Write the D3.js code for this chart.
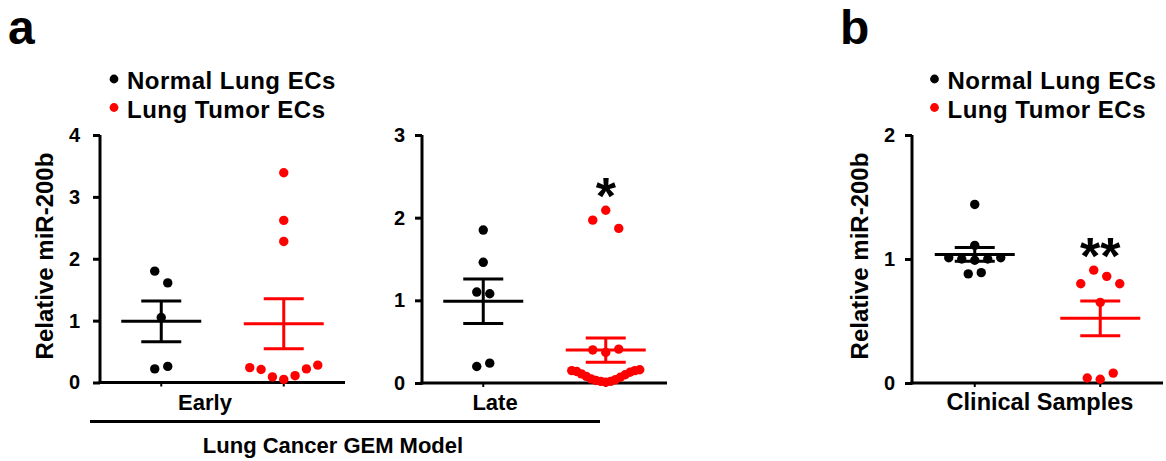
<!DOCTYPE html>
<html lang="en">
<head>
<meta charset="UTF-8">
<title>miR-200b</title>
<script src="https://d3js.org/d3.v7.min.js"></script>
<style>
  body { margin: 0; background: #fff; }
  text { font-family: "Liberation Sans", Arial, sans-serif; font-weight: bold; fill: #000; }
</style>
</head>
<body>
<script>
// ---- data ----
var seriesNames = ["Normal Lung ECs", "Lung Tumor ECs"];
var seriesColors = ["#000000", "#ff0000"];

var earlyNormal = [0.22, 0.26, 1.61, 1.80, 1.05];
var earlyTumor = [3.39, 2.62, 2.28, 0.28, 0.22, 0.11, 0.05, 0.09, 0.21, 0.24];

var lateNormal = [1.85, 1.46, 1.10, 1.08, 0.20, 0.24];
var lateTumor = [2.09, 1.97, 1.87, 0.40, 0.37, 0.41,
                 0.16, 0.15, 0.13, 0.10, 0.07, 0.04, 0.02, 0.01, 0.02, 0.03, 0.05, 0.08, 0.11, 0.14, 0.15];

var clinicalNormal = [1.44, 1.11, 1.01, 1.00, 0.99, 1.00, 1.01, 0.88, 0.89];
var clinicalTumor = [0.86, 0.91, 0.80, 0.80, 0.65, 0.08, 0.03, 0.04];

var earlyTicks = [0, 1, 2, 3, 4];
var lateTicks = [0, 1, 2, 3];
var clinicalTicks = [0, 1, 2];

var sigLate = "*";
var sigClinical = "**";

var width = 1166, height = 461;
var svg = d3.select("body").append("svg")
    .attr("width", width)
    .attr("height", height);

// points that fall in the same row get spread side by side (scatter dot plot)
function swarm(values, y, cx, mean) {
    var pts = values.map(function (v) { return {v: v, y: y(v)}; })
        .sort(function (a, b) { return b.y - a.y; });
    var rows = [];
    pts.forEach(function (p, i) {
        if (i > 0 && Math.abs(p.y - pts[i - 1].y) < 12) rows[rows.length - 1].push(p);
        else rows.push([p]);
    });
    var out = [];
    rows.forEach(function (row) {
        var n = row.length;
        var s = n > 1 ? Math.min(13, 68 / (n - 1)) : 0;
        var slots = d3.range(n).map(function (i) { return (i - (n - 1) / 2) * s; })
            .sort(function (a, b) { return Math.abs(a) - Math.abs(b) || a - b; });
        var rowMean = d3.mean(row, function (d) { return d.v; });
        row.sort(function (a, b) { return rowMean > mean ? b.v - a.v : a.v - b.v; });
        row.forEach(function (p, i) { out.push({v: p.v, x: cx + slots[i], y: p.y}); });
    });
    return out;
}

function panel(cfg) {
    var y = d3.scaleLinear().domain([0, cfg.ticks[cfg.ticks.length - 1]]).range([cfg.bottom, cfg.top]);
    var x = d3.scaleBand().domain(seriesNames).range([cfg.left, cfg.right]);
    var g = svg.append("g");

    var yAxis = d3.axisLeft(y).tickValues(cfg.ticks).tickFormat(d3.format("d"))
        .tickSize(7).tickPadding(cfg.pad);
    var ya = g.append("g").attr("transform", "translate(" + cfg.left + ",0)").call(yAxis);
    ya.select(".domain").attr("stroke-width", 3).attr("d", "M0," + (cfg.top) + "V" + (cfg.bottom + 1.5));
    ya.selectAll(".tick line").attr("stroke-width", 3);
    ya.selectAll(".tick text").attr("font-size", 20).attr("font-family", null).attr("fill", "#000");

    var xAxis = d3.axisBottom(x).tickSize(4).tickFormat("");
    var xa = g.append("g").attr("transform", "translate(0," + cfg.bottom + ")").call(xAxis);
    xa.select(".domain").attr("stroke-width", 3).attr("d", "M" + (cfg.left - 1.5) + ",0H" + cfg.right);
    xa.selectAll(".tick line").attr("stroke-width", 2);

    [cfg.normal, cfg.tumor].forEach(function (vals, k) {
        var cx = x(seriesNames[k]) + x.bandwidth() / 2;
        var m = d3.mean(vals);
        var sem = d3.deviation(vals) / Math.sqrt(vals.length);
        var col = seriesColors[k];
        var eb = g.append("g").attr("stroke", col).attr("stroke-width", 3).attr("fill", "none");
        eb.append("line").attr("x1", cx - 40).attr("x2", cx + 40).attr("y1", y(m)).attr("y2", y(m));
        eb.append("line").attr("x1", cx).attr("x2", cx).attr("y1", y(m - sem)).attr("y2", y(m + sem));
        [m - sem, m + sem].forEach(function (v) {
            eb.append("line").attr("x1", cx - 20).attr("x2", cx + 20).attr("y1", y(v)).attr("y2", y(v));
        });
        g.append("g").selectAll("circle")
            .data(swarm(vals, y, cx, m))
            .enter().append("circle")
            .attr("cx", function (d) { return d.x; })
            .attr("cy", function (d) { return d.y; })
            .attr("r", 4.7)
            .attr("fill", col);
        if (k === 1 && cfg.sig) {
            g.append("text").attr("x", cx).attr("y", y(d3.max(vals)) + 4)
                .attr("text-anchor", "middle").attr("font-size", 52).text(cfg.sig);
        }
    });

    g.append("text").attr("x", cfg.labelX).attr("y", 410)
        .attr("text-anchor", "middle").attr("font-size", cfg.labelSize).text(cfg.label);
    if (cfg.yLabelX) {
        g.append("text")
            .attr("transform", "translate(" + cfg.yLabelX + ",256) rotate(-90)")
            .attr("text-anchor", "middle").attr("dy", "0.35em").attr("font-size", 24)
            .text("Relative miR-200b");
    }
}

function legend(x0) {
    var lg = svg.append("g");
    seriesNames.forEach(function (name, i) {
        lg.append("circle").attr("cx", x0).attr("cy", 79 + i * 28.5).attr("r", 4.4).attr("fill", seriesColors[i]);
        lg.append("text").attr("x", x0 + 13).attr("y", 88.5 + i * 29).attr("font-size", 24)
            .attr("letter-spacing", 0.5).text(name);
    });
}

panel({left: 100, right: 345, top: 135, bottom: 382.5, ticks: earlyTicks, pad: 13,
       normal: earlyNormal, tumor: earlyTumor, label: "Early", labelX: 205, labelSize: 22, yLabelX: 45});
panel({left: 422, right: 667, top: 135, bottom: 383, ticks: lateTicks, pad: 10,
       normal: lateNormal, tumor: lateTumor, label: "Late", labelX: 495, labelSize: 22, sig: sigLate});
panel({left: 912, right: 1163, top: 135, bottom: 383, ticks: clinicalTicks, pad: 10,
       normal: clinicalNormal, tumor: clinicalTumor, label: "Clinical Samples", labelX: 1040, labelSize: 23.5,
       yLabelX: 860, sig: sigClinical});

legend(114);
legend(934.5);

// bracket under the two GEM panels
svg.append("line").attr("x1", 90).attr("x2", 600).attr("y1", 421.5).attr("y2", 421.5)
    .attr("stroke", "#000").attr("stroke-width", 3);
svg.append("text").attr("x", 333).attr("y", 452.5).attr("text-anchor", "middle")
    .attr("font-size", 22).text("Lung Cancer GEM Model");

svg.append("text").attr("x", 8).attr("y", 44).attr("font-size", 48).text("a");
svg.append("text").attr("x", 840).attr("y", 44).attr("font-size", 48).text("b");
</script>
</body>
</html>
